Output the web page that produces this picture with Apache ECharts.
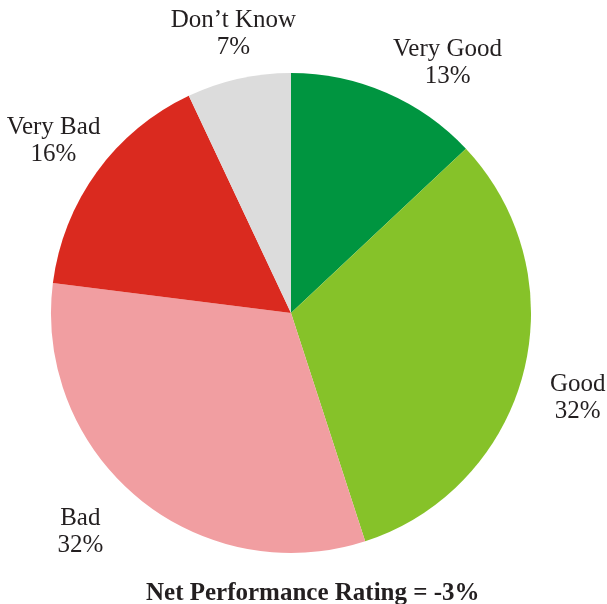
<!DOCTYPE html>
<html>
<head>
<meta charset="utf-8">
<script src="https://cdn.jsdelivr.net/npm/echarts@6/dist/echarts.min.js"></script>
<style>
  html, body { margin: 0; padding: 0; background: #fff; }
  #chart { width: 607px; height: 604px; }
</style>
</head>
<body>
<div id="chart"></div>
<script>
const categories = ['Very Good', 'Good', 'Bad', 'Very Bad', 'Don\u2019t Know']
const shares = [13, 32, 32, 16, 7]
const sliceColors = ['#009540', '#86c229', '#f19ea1', '#da2a1f', '#dcdcdc']
const titleText = 'Net Performance Rating = -3%'

// hand placed labels in the original, nudge from the mid angle
const labelNudge = [[39, 22], [0, 11], [-22, -9], [2, 2], [7, 10]]

const font = '"Liberation Serif", "Times New Roman", serif'
const center = [291, 313]

const chart = echarts.init(document.getElementById('chart'))

chart.setOption({
  animation: false,
  title: {
    text: titleText,
    left: 141,
    top: 576,
    textStyle: { fontFamily: font, fontSize: 25, fontWeight: 'bold', color: '#231f20' },
  },
  series: [
    {
      type: 'pie',
      center,
      radius: 240,
      startAngle: 90,
      clockwise: true,
      silent: true,
      label: { show: false },
      labelLine: { show: false },
      data: categories.map((name, i) => ({
        name,
        value: shares[i],
        itemStyle: { color: sliceColors[i] },
      })),
    },
    {
      // transparent ring that only carries the labels
      type: 'pie',
      center,
      radius: [286, 300],
      startAngle: 90,
      clockwise: true,
      silent: true,
      itemStyle: { color: 'transparent' },
      labelLine: { show: false },
      label: {
        show: true,
        position: 'inside',
        formatter: '{b}\n{c}%',
        fontFamily: font,
        fontSize: 25,
        lineHeight: 27,
        color: '#231f20',
        align: 'center',
      },
      data: categories.map((name, i) => ({
        name,
        value: shares[i],
        label: { offset: labelNudge[i] },
      })),
    },
  ],
})
</script>
</body>
</html>
